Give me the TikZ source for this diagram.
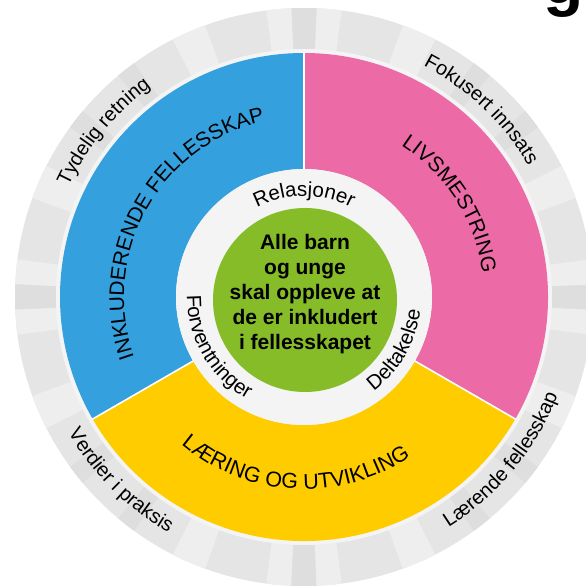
\documentclass[tikz,border=0pt]{standalone}
\usepackage{fontspec}
\setmainfont{Liberation Sans}
\usetikzlibrary{decorations.text}

\definecolor{secblue}{HTML}{34A0DE}
\definecolor{secpink}{HTML}{EC6AA5}
\definecolor{secyellow}{HTML}{FFCC00}
\definecolor{coregreen}{HTML}{85BC28}
\definecolor{ringmid}{HTML}{E5E5E5}
\definecolor{ringlight}{HTML}{EEEEEE}
\definecolor{ringdark}{HTML}{DEDEDE}
\definecolor{innerring}{HTML}{F4F4F4}

\tikzset{
  arclabel/.style 2 args={decorate, decoration={text along path,
      text align=center, text={|#1|#2}}},
}
\newcommand{\fsz}[1]{\fontsize{#1}{#1}\selectfont}

\begin{document}
\begin{tikzpicture}[x=1pt,y=1pt]
\useasboundingbox (0,0) rectangle (586,587);
\clip (0,0) rectangle (586,587);
\fill[white] (0,0) rectangle (586,587);

% lower part of a heading letter running off the top edge
\node[font=\bfseries\fontsize{66}{66}\selectfont, anchor=base, inner sep=0pt]
  (headfrag) at (564,583) {g};

\begin{scope}[shift={(304,290)}]
  % outer grey band with radial stripes
  \fill[ringmid] (0,0) circle[radius=289pt];
  \foreach \q in {0,90,180,270}{
    \foreach \a/\b/\c in {-7.5/-2.5/ringlight, -2.5/2.5/ringdark, 2.5/7.5/ringlight,
                          20/27/ringlight, 36/40/ringdark, 50/54/ringdark, 63/70/ringlight}{
      \fill[\c] (0,0) -- (\q+\a:289pt) arc[start angle=\q+\a, end angle=\q+\b, radius=289pt] -- cycle;
    }
  }
  \fill[innerring] (0,0) circle[radius=248pt];

  % three coloured sectors
  \fill[secblue]   (90:244pt) arc[start angle=90, end angle=210, radius=244pt]
                   -- (210:128pt) arc[start angle=210, end angle=90, radius=128pt] -- cycle;
  \fill[secyellow] (210:244pt) arc[start angle=210, end angle=330, radius=244pt]
                   -- (330:128pt) arc[start angle=330, end angle=210, radius=128pt] -- cycle;
  \fill[secpink]   (330:244pt) arc[start angle=330, end angle=450, radius=244pt]
                   -- (90:128pt) arc[start angle=90, end angle=-30, radius=128pt] -- cycle;
  \foreach \d in {90,210,330}
    \draw[white, line width=1.6pt] (\d:127pt) -- (\d:245pt);

  % inner ring and core
  \fill[innerring] (0,0) circle[radius=128pt];
  \fill[coregreen] (1,-3) circle[radius=92pt];
  \node[align=center, font=\bfseries\fontsize{21}{25}\selectfont, inner sep=0pt]
    (core) at (1,3) {Alle barn\\og unge\\skal oppleve at\\de er inkludert\\i fellesskapet};

  % labels on the inner ring
  \path[arclabel={\fsz{20.5}}{Relasjoner}] (150:101pt) arc[start angle=150, end angle=30, radius=101pt];
  \path[arclabel={\fsz{20.5}}{Forventninger}] (150:117pt) arc[start angle=150, end angle=270, radius=117pt];
  \path[arclabel={\fsz{20.5}}{Deltakelse}] (270:117pt) arc[start angle=270, end angle=390, radius=117pt];

  % labels on the coloured sectors
  \path[arclabel={\fsz{21}}{INKLUDERENDE FELLESSKAP}] (211:180pt) arc[start angle=211, end angle=91, radius=180pt];
  \path[arclabel={\fsz{21}}{LIVSMESTRING}] (92.5:180pt) arc[start angle=92.5, end angle=-27.5, radius=180pt];
  \path[arclabel={\fsz{21.5}}{LÆRING OG UTVIKLING}] (207:192pt) arc[start angle=207, end angle=327, radius=192pt];

  % labels on the outer band
  \path[arclabel={\fsz{20}}{Tydelig retning}] (190.5:260pt) arc[start angle=190.5, end angle=90.5, radius=260pt];
  \path[arclabel={\fsz{20}}{Fokusert innsats}] (96.5:260pt) arc[start angle=96.5, end angle=-3.5, radius=260pt];
  \path[arclabel={\fsz{20}}{Lærende fellesskap}] (270.5:272pt) arc[start angle=270.5, end angle=370.5, radius=272pt];
  \path[arclabel={\fsz{20}}{Verdier i praksis}] (175:272pt) arc[start angle=175, end angle=275, radius=272pt];
\end{scope}
\end{tikzpicture}
\end{document}
